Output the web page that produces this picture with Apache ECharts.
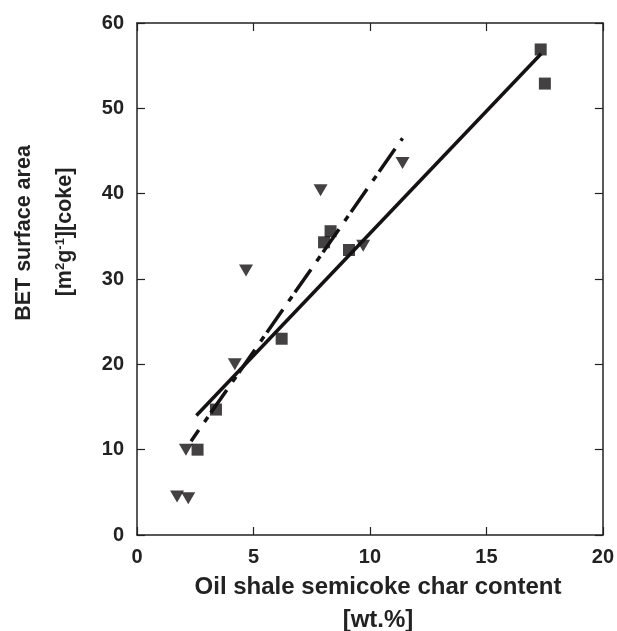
<!DOCTYPE html>
<html>
<head>
<meta charset="utf-8">
<script src="https://cdn.jsdelivr.net/npm/echarts@6/dist/echarts.min.js"></script>
<style>
  html, body { margin: 0; padding: 0; background: #fff; }
  #chart { width: 617px; height: 631px; }
</style>
</head>
<body>
<div id="chart"></div>
<script>
// squares
const charSquares = [17.33, 17.51, 8.31, 8.03, 9.1, 6.21, 3.39, 2.6];
const betSquares = [56.9, 52.9, 35.6, 34.3, 33.4, 23.0, 14.7, 10.0];
// down triangles
const charTriangles = [7.88, 11.4, 4.68, 9.71, 4.2, 2.1, 1.72, 2.2];
const betTriangles = [40.4, 43.6, 31.0, 33.9, 20.0, 10.0, 4.5, 4.3];
// fit lines (end points)
const solidFitX = [2.55, 17.35];
const solidFitY = [14.0, 56.4];
const dashFitX = [11.4, 2.32];
const dashFitY = [46.5, 11.0];

const xTicks = [0, 5, 10, 15, 20];
const yTicks = [0, 10, 20, 30, 40, 50, 60];

const ink = '#141213';
const font = '"Liberation Sans", Arial, sans-serif';

function pairs(xs, ys) {
    return xs.map((x, i) => [x, ys[i]]);
}

const chart = echarts.init(document.getElementById('chart'));

const baseAxis = {
    type: 'value',
    axisLine: { show: true, onZero: false, lineStyle: { color: '#222', width: 1.5 } },
    axisTick: { show: true, inside: true, length: 8, lineStyle: { color: '#222', width: 1.2 } },
    splitLine: { show: false },
    axisLabel: { color: '#222', fontFamily: font, fontWeight: 'bold', fontSize: 20 }
};

chart.setOption({
    animation: false,
    backgroundColor: '#fff',
    grid: { left: 137, right: 14, top: 23, bottom: 96 },
    xAxis: [
        Object.assign({}, baseAxis, {
            min: xTicks[0], max: xTicks[xTicks.length - 1], interval: 5,
            position: 'bottom',
            axisLabel: Object.assign({}, baseAxis.axisLabel, { margin: 12 })
        }),
        Object.assign({}, baseAxis, {
            min: xTicks[0], max: xTicks[xTicks.length - 1], interval: 5,
            position: 'top',
            axisLabel: { show: false }
        })
    ],
    yAxis: [
        Object.assign({}, baseAxis, {
            min: yTicks[0], max: yTicks[yTicks.length - 1], interval: 10,
            position: 'left',
            axisLabel: Object.assign({}, baseAxis.axisLabel, { margin: 13 })
        }),
        Object.assign({}, baseAxis, {
            min: yTicks[0], max: yTicks[yTicks.length - 1], interval: 10,
            position: 'right',
            axisLabel: { show: false }
        })
    ],
    graphic: [
        {
            type: 'text', x: 378, y: 587,
            style: {
                text: 'Oil shale semicoke char content',
                font: 'bold 24px ' + font, fill: '#222',
                align: 'center', verticalAlign: 'middle'
            }
        },
        {
            type: 'text', x: 378, y: 620,
            style: {
                text: '[wt.%]',
                font: 'bold 24px ' + font, fill: '#222',
                align: 'center', verticalAlign: 'middle'
            }
        },
        {
            type: 'text', x: 24, y: 233, rotation: Math.PI / 2,
            style: {
                text: 'BET surface area',
                font: 'bold 21.5px ' + font, fill: '#222',
                align: 'center', verticalAlign: 'middle'
            }
        },
        {
            type: 'text', x: 65, y: 232, rotation: Math.PI / 2,
            style: {
                text: '{a|[m}{s|2}{a|g}{s|-1}{a|][coke]}',
                align: 'center', verticalAlign: 'middle',
                rich: {
                    a: { font: 'bold 21.5px ' + font, fill: '#222', color: '#222' },
                    s: { font: 'bold 13px ' + font, fill: '#222', color: '#222', verticalAlign: 'top', padding: [0, 0, 10, 0] }
                }
            }
        }
    ],
    series: [
        {
            type: 'line', data: pairs(solidFitX, solidFitY),
            symbol: 'none', lineStyle: { color: ink, width: 3.5 }, z: 2
        },
        {
            type: 'line', data: pairs(dashFitX, dashFitY),
            symbol: 'none',
            lineStyle: { color: ink, width: 3.5, type: [6, 10, 28, 5], dashOffset: 3, cap: 'butt' }, z: 2
        },
        {
            type: 'scatter', data: pairs(charSquares, betSquares),
            symbol: 'rect', symbolSize: 12, itemStyle: { color: ink }, z: 3
        },
        {
            type: 'scatter', data: pairs(charTriangles, betTriangles),
            symbol: 'triangle', symbolRotate: 180, symbolSize: [14, 12],
            itemStyle: { color: ink }, z: 3
        }
    ]
});
</script>
</body>
</html>
